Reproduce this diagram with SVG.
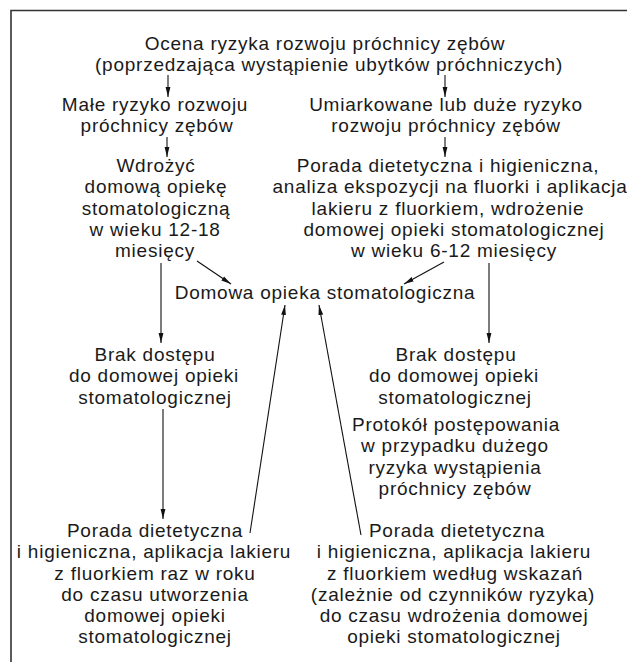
<svg xmlns="http://www.w3.org/2000/svg" width="627" height="662" viewBox="0 0 627 662">
<style>
text{font-family:"Liberation Sans",Arial,sans-serif;font-size:19px;letter-spacing:0.75px;fill:#1a1a1a;text-anchor:middle}
.c{stroke:#111;stroke-width:1.1;fill:none}
.b{stroke:#333;stroke-width:1.6;fill:none}
</style>
<defs>
<marker id="ah" viewBox="0 0 10 6" refX="10" refY="3" markerWidth="10" markerHeight="6" markerUnits="userSpaceOnUse" orient="auto">
<path d="M0,0.6 L10,3 L0,5.4 Z" fill="#111"/>
</marker>
</defs>
<rect width="627" height="662" fill="#fff"/>
<path class="b" d="M11,662 V10.5 H627"/>
<g id="n1"><text x="325" y="50">Ocena ryzyka rozwoju próchnicy zębów</text><text x="329" y="71.25">(poprzedzająca wystąpienie ubytków próchniczych)</text></g>
<g id="n2"><text x="155" y="111">Małe ryzyko rozwoju</text><text x="157" y="132.25">próchnicy zębów</text></g>
<g id="n3"><text x="446" y="111">Umiarkowane lub duże ryzyko</text><text x="446" y="132.25">rozwoju próchnicy zębów</text></g>
<g id="n4"><text x="156" y="172">Wdrożyć</text><text x="156" y="193.25">domową opiekę</text><text x="156" y="214.5">stomatologiczną</text><text x="155" y="235.75">w wieku 12-18</text><text x="155" y="257">miesięcy</text></g>
<g id="n5"><text x="448" y="172">Porada dietetyczna i higieniczna,</text><text x="450" y="193.25">analiza ekspozycji na fluorki i aplikacja</text><text x="448" y="214.5">lakieru z fluorkiem, wdrożenie</text><text x="454" y="235.75">domowej opieki stomatologicznej</text><text x="454" y="257">w wieku 6-12 miesięcy</text></g>
<g id="n6"><text x="325" y="299">Domowa opieka stomatologiczna</text></g>
<g id="n7"><text x="155" y="361">Brak dostępu</text><text x="154" y="382.25">do domowej opieki</text><text x="155" y="403.5">stomatologicznej</text></g>
<g id="n8"><text x="456" y="361">Brak dostępu</text><text x="454" y="382.25">do domowej opieki</text><text x="455" y="403.5">stomatologicznej</text></g>
<g id="n9"><text x="456" y="431">Protokół postępowania</text><text x="455" y="452.25">w przypadku dużego</text><text x="455" y="473.5">ryzyka wystąpienia</text><text x="455" y="494.75">próchnicy zębów</text></g>
<g id="n10"><text x="155" y="537">Porada dietetyczna</text><text x="154" y="558.25">i higieniczna, aplikacja lakieru</text><text x="155" y="579.5">z fluorkiem raz w roku</text><text x="155" y="600.75">do czasu utworzenia</text><text x="155" y="622">domowej opieki</text><text x="155" y="643.25">stomatologicznej</text></g>
<g id="n11"><text x="457" y="537">Porada dietetyczna</text><text x="454" y="558.25">i higieniczna, aplikacja lakieru</text><text x="455" y="579.5">z fluorkiem według wskazań</text><text x="453" y="600.75">(zależnie od czynników ryzyka)</text><text x="454" y="622">do czasu wdrożenia domowej</text><text x="454" y="643.25">opieki stomatologicznej</text></g>
<g id="connectors">
<path class="c" d="M168,75 V97" marker-end="url(#ah)"/>
<path class="c" d="M445,75 V97" marker-end="url(#ah)"/>
<path class="c" d="M167,137 V157" marker-end="url(#ah)"/>
<path class="c" d="M445,137 V157" marker-end="url(#ah)"/>
<path class="c" d="M197,261 L231,284" marker-end="url(#ah)"/>
<path class="c" d="M444,262 L404,284" marker-end="url(#ah)"/>
<path class="c" d="M161,263 V343" marker-end="url(#ah)"/>
<path class="c" d="M489,263 V343" marker-end="url(#ah)"/>
<path class="c" d="M163,409 V519" marker-end="url(#ah)"/>
<path class="c" d="M250,533 L285,305" marker-end="url(#ah)"/>
<path class="c" d="M361,535 L319,305" marker-end="url(#ah)"/>
</g>
</svg>
